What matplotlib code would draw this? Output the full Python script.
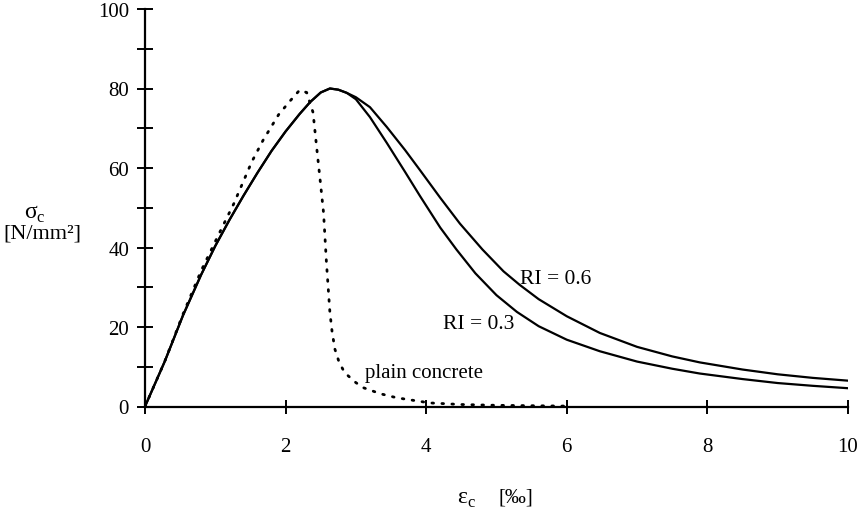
import matplotlib
matplotlib.use("Agg")
import matplotlib.pyplot as plt
from matplotlib.ticker import MultipleLocator

# shared ascending branch of the two fibre concrete curves
asc_x = [0, 0.28, 0.54, 0.8, 1.0, 1.2, 1.4, 1.6, 1.8, 2.0, 2.2, 2.35, 2.5, 2.63, 2.75, 2.87]
asc_y = [0, 11.3, 22.9, 33.2, 40.4, 46.9, 53.0, 58.8, 64.3, 69.2, 73.6, 76.6, 79.0, 80.0, 79.7, 78.9]

# descending branches
ri06_x = [3.0, 3.2, 3.44, 3.7, 3.91, 4.2, 4.48, 4.8, 5.1, 5.33, 5.6, 6.0, 6.47, 7.0, 7.5, 7.89, 8.5, 9.0, 9.5, 10.0]
ri06_y = [77.8, 75.3, 70.3, 64.5, 59.5, 52.5, 46.0, 39.5, 34.0, 30.6, 27.0, 22.7, 18.5, 15.0, 12.6, 11.1, 9.3, 8.1, 7.2, 6.5]
ri03_x = [3.0, 3.2, 3.44, 3.7, 3.91, 4.2, 4.43, 4.7, 5.0, 5.29, 5.6, 6.0, 6.47, 7.0, 7.5, 7.89, 8.5, 9.0, 9.5, 10.0]
ri03_y = [77.3, 72.8, 66.3, 59.0, 53.0, 45.0, 39.5, 33.5, 28.0, 23.8, 20.2, 16.8, 13.9, 11.3, 9.5, 8.3, 6.9, 5.9, 5.2, 4.6]

# plain concrete
plain_x = [0, 0.28, 0.54, 0.8, 1.09, 1.26, 1.52, 1.68, 1.90, 2.06, 2.2, 2.3, 2.39,
           2.44, 2.49, 2.54, 2.58, 2.63, 2.66, 2.70, 2.76, 2.84, 3.0, 3.11, 3.35, 3.58,
           4.05, 4.5, 5.0, 6.0]
plain_y = [0, 11.3, 23.2, 34.2, 44.8, 50.9, 61.6, 67.0, 73.4, 76.8, 79.6, 79.0, 74.0,
           65.5, 57.2, 48.7, 36.5, 23.7, 19.0, 14.5, 11.2, 8.5, 6.0, 4.7, 3.2, 2.2,
           0.9, 0.5, 0.3, 0.1]

x_ticks = [0, 2, 4, 6, 8, 10]
y_ticks = [0, 20, 40, 60, 80, 100]

plt.rcParams['font.family'] = ['Liberation Serif', 'DejaVu Serif']

fig = plt.figure(figsize=(8.67, 5.10), dpi=100)
ax = fig.add_axes([145 / 867, 1 - 407.5 / 510, (848 - 145) / 867, (407.5 - 10) / 510])

ax.plot(asc_x + ri06_x, asc_y + ri06_y, color='black', lw=1.6, solid_joinstyle='round')
ax.plot(asc_x + ri03_x, asc_y + ri03_y, color='black', lw=1.6, solid_joinstyle='round')
ax.plot(plain_x, plain_y, color='black', lw=2.0, linestyle=(0, (0.6, 3.0)),
        dash_capstyle='round')

ax.set_xlim(0, 10)
ax.set_ylim(0, 100)
for s in ['top', 'right']:
    ax.spines[s].set_visible(False)
ax.spines['left'].set_linewidth(1.6)
ax.spines['bottom'].set_linewidth(1.6)

ax.set_xticks(x_ticks)
ax.set_yticks(y_ticks)
ax.yaxis.set_minor_locator(MultipleLocator(10))
ax.tick_params(axis='both', which='both', direction='inout', width=1.4, labelsize=15)
ax.tick_params(axis='y', which='both', length=11, pad=6)
ax.tick_params(axis='x', which='major', length=9.5, pad=17)

ax.text(5.33, 32.1, 'RI = 0.6', fontsize=15.5, ha='left', va='center')
ax.text(5.25, 20.8, 'RI = 0.3', fontsize=15.5, ha='right', va='center')
ax.text(3.13, 8.6, 'plain concrete', fontsize=15, ha='left', va='center')

fig.text(24 / 867, 1 - 214 / 510, 'σ$_\\mathregular{c}$', fontsize=17, ha='left', va='center')
fig.text(42 / 867, 1 - 234 / 510, '[N/mm²]', fontsize=16, ha='center', va='center')
fig.text(457 / 867, 1 - 500 / 510, 'ε$_\\mathregular{c}$', fontsize=17, ha='left', va='center')
fig.text(499 / 867, 1 - 498 / 510, '[‰]', fontsize=15, ha='left', va='center')

fig.savefig('out.png', dpi=100)
